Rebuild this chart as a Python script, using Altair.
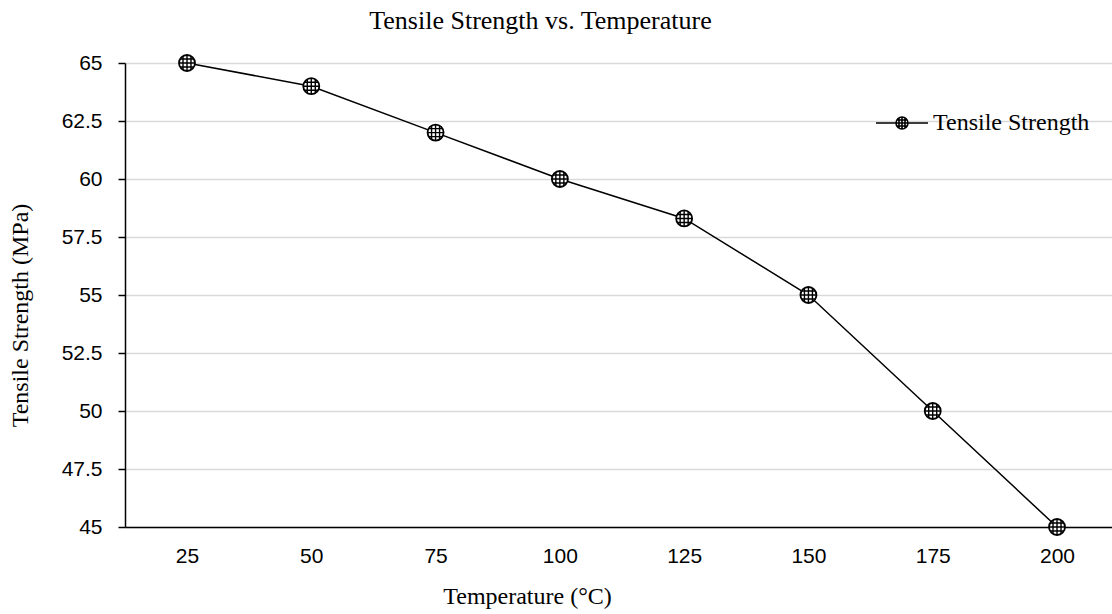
import altair as alt
import pandas as pd

temps = [25, 50, 75, 100, 125, 150, 175, 200]
strength = [65, 64, 62, 60, 58.3, 55, 50, 45]
series_name = "Tensile Strength"
y_ticks = [45, 47.5, 50, 52.5, 55, 57.5, 60, 62.5, 65]

df = pd.DataFrame({"Temperature": temps, "Strength": strength, "Series": series_name})

GRID_PATH = ("M-0.5,-0.866L-0.5,0.866M0,-1L0,1M0.5,-0.866L0.5,0.866"
             "M-0.866,-0.5L0.866,-0.5M-1,0L1,0M-0.866,0.5L0.866,0.5")
LEG_PATH = ("M-1,0L-0.23,0M0.23,0L1,0"
            "M-0.23,0A0.23,0.23,0,1,1,0.23,0A0.23,0.23,0,1,1,-0.23,0"
            "M-0.115,-0.2L-0.115,0.2M0,-0.23L0,0.23M0.115,-0.2L0.115,0.2"
            "M-0.2,-0.115L0.2,-0.115M-0.23,0L0.23,0M-0.2,0.115L0.2,0.115")

x = alt.X("Temperature:Q",
          scale=alt.Scale(domain=[12.53, 211.06], nice=False, zero=False),
          axis=alt.Axis(values=temps, grid=False, ticks=False, domainColor="black",
                        domainWidth=1.5, labelFont="Liberation Sans", labelFontSize=21,
                        labelColor="black", labelPadding=18,
                        title="Temperature (°C)", titleFont="Liberation Serif",
                        titleFontSize=24, titleFontWeight="normal", titleColor="black",
                        titleAnchor="start", titleAlign="center", titleBaseline="middle",
                        titleX=402, titleY=69))
y = alt.Y("Strength:Q",
          scale=alt.Scale(domain=[45, 65], nice=False, zero=False),
          axis=alt.Axis(values=y_ticks, format=".1~f", grid=True, gridColor="#d9d9d9",
                        gridWidth=1.5, tickColor="black", tickSize=7, tickWidth=1.5,
                        domainColor="black", domainWidth=1.5,
                        labelFont="Liberation Sans", labelFontSize=21, labelColor="black",
                        labelPadding=16,
                        title="Tensile Strength (MPa)", titleFont="Liberation Serif",
                        titleFontSize=24, titleFontWeight="normal", titleColor="black",
                        titleAngle=270, titleAlign="center", titleBaseline="middle",
                        titleX=-105, titleY=252))

base = alt.Chart(df)

line = base.mark_line(strokeWidth=1.5).encode(
    x=x, y=y,
    color=alt.Color("Series:N", scale=alt.Scale(range=["black"]),
                    legend=alt.Legend(title=None, orient="none", legendX=750, legendY=33,
                                      symbolType=LEG_PATH, symbolSize=2704,
                                      symbolStrokeColor="black", symbolStrokeWidth=1.6,
                                      symbolFillColor="white",
                                      labelFont="Liberation Serif", labelFontSize=24,
                                      labelColor="black", labelOffset=4, padding=0)),
)
dots = base.mark_point(shape="circle", size=256, filled=True, fill="white",
                       stroke="black", strokeWidth=1.8, opacity=1).encode(x=x, y=y)
grid = base.mark_point(shape=GRID_PATH, size=256, filled=False, stroke="black",
                       strokeWidth=1.4, opacity=1).encode(x=x, y=y)

chart = (alt.layer(line, dots, grid)
         .properties(width=987, height=464,
                     title=alt.TitleParams("Tensile Strength vs. Temperature",
                                           font="Liberation Serif", fontSize=26,
                                           fontWeight="normal", color="black",
                                           anchor="middle", frame="group", dx=-78,
                                           offset=17),
                     padding={"left": 125, "top": 63, "right": 0, "bottom": 87},
                     autosize=alt.AutoSizeParams(type="none"))
         .configure_view(stroke=None)
         .configure(background="white"))

chart.save("out.html", embed_options={"renderer": "svg", "actions": False})
